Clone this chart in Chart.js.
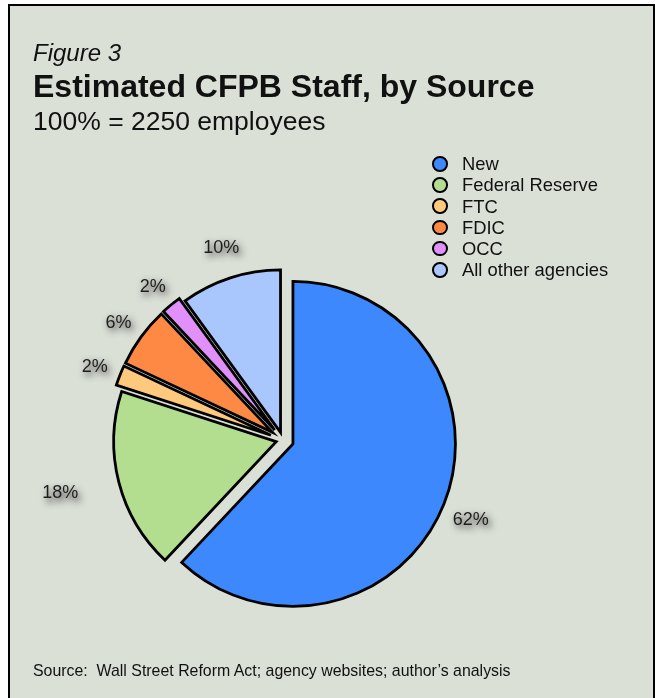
<!DOCTYPE html>
<html>
<head>
<meta charset="utf-8">
<script src="https://cdn.jsdelivr.net/npm/chart.js@4/dist/chart.umd.min.js"></script>
<style>
  html, body { margin: 0; padding: 0; background: #ffffff; }
  body { width: 655px; height: 698px; position: relative; overflow: hidden;
         font-family: "Liberation Sans", Arial, Helvetica, sans-serif; color: #111; }
  #frame { position: absolute; left: 8px; top: 4px; width: 647px; height: 720px;
           box-sizing: border-box; border: 2px solid #000; background: #dbe0d7; }
  #chart { position: absolute; left: 0; top: 0; }
  .t { position: absolute; left: 33px; white-space: nowrap; }
  #fig { top: 40.7px; font-size: 24px; line-height: 24px; font-style: italic; }
  #title { top: 69.6px; font-size: 32px; line-height: 32px; font-weight: bold; }
  #sub { top: 107.6px; font-size: 26.5px; line-height: 26.5px; }
  #src { top: 662.5px; font-size: 15.9px; line-height: 16px; }
  #legend { position: absolute; left: 432px; top: 153.2px; }
  .row { height: 21.2px; line-height: 21.2px; font-size: 18.4px; position: relative; white-space: nowrap; }
  .dot { position: absolute; left: 0; top: 2.9px; width: 15.5px; height: 15.5px; box-sizing: border-box;
         border: 2.5px solid #000; border-radius: 50%; }
  .lab { position: absolute; left: 30px; top: 0; }
</style>
</head>
<body>
<div id="frame"></div>
<canvas id="chart" width="655" height="698"></canvas>
<div class="t" id="fig">Figure 3</div>
<div class="t" id="title">Estimated CFPB Staff, by Source</div>
<div class="t" id="sub">100% = 2250 employees</div>
<div id="legend"></div>
<div class="t" id="src">Source:&nbsp; Wall Street Reform Act; agency websites; author’s analysis</div>
<script>
// ---- data ----
const categories = ["New", "Federal Reserve", "FTC", "FDIC", "OCC", "All other agencies"];
const shares = [62, 18, 2, 6, 2, 10];
const sliceColors = ["#3d88fc", "#b4de8f", "#fec97c", "#fe8944", "#e190fa", "#a9c6fd"];

// ---- style: explosion distance per slice, label placement ----
const explode = [10.7, 7, 13, 13, 13, 8];
const labelDistance = [204, 229, 202, 202, 201, 202];
const labelNudgeDeg = [1.45, 1.0, -0.3, -0.5, -0.8, 0.2];

// legend
const legendEl = document.getElementById('legend');
categories.forEach((c, i) => {
  const row = document.createElement('div');
  row.className = 'row';
  const dot = document.createElement('span');
  dot.className = 'dot';
  dot.style.background = sliceColors[i];
  const lab = document.createElement('span');
  lab.className = 'lab';
  lab.textContent = c;
  row.appendChild(dot); row.appendChild(lab);
  legendEl.appendChild(row);
});

const total = shares.reduce((a, b) => a + b, 0);

// draw each library arc element shifted outward along its mid angle
const explodedPie = {
  id: 'explodedPie',
  beforeDatasetDraw(chart, args) {
    const ctx = chart.ctx;
    args.meta.data.forEach((arc, i) => {
      const p = arc.getProps(['startAngle', 'endAngle'], true);
      const mid = (p.startAngle + p.endAngle) / 2;
      ctx.save();
      ctx.translate(Math.cos(mid) * explode[i], Math.sin(mid) * explode[i]);
      arc.draw(ctx, chart.chartArea);
      ctx.restore();
    });
    return false;
  }
};

const pctLabels = {
  id: 'pctLabels',
  afterDatasetsDraw(chart) {
    const ctx = chart.ctx;
    const meta = chart.getDatasetMeta(0);
    ctx.save();
    ctx.font = '18px "Liberation Sans", Arial, Helvetica, sans-serif';
    ctx.textAlign = 'center';
    ctx.textBaseline = 'middle';
    meta.data.forEach((arc, i) => {
      const p = arc.getProps(['x', 'y', 'startAngle', 'endAngle'], true);
      const mid = (p.startAngle + p.endAngle) / 2 + labelNudgeDeg[i] * Math.PI / 180;
      const d = labelDistance[i];
      const x = p.x + Math.cos(mid) * d;
      const y = p.y + Math.sin(mid) * d;
      const txt = Math.round(shares[i] / total * 100) + '%';
      ctx.shadowColor = 'rgba(0,0,0,0.85)';
      ctx.shadowBlur = 7;
      ctx.shadowOffsetX = 2.5;
      ctx.shadowOffsetY = 3.5;
      ctx.fillStyle = '#1e1e1e';
      ctx.fillText(txt, x, y);
    });
    ctx.restore();
  }
};

new Chart(document.getElementById('chart'), {
  type: 'pie',
  data: {
    labels: categories,
    datasets: [{
      data: shares,
      backgroundColor: sliceColors,
      borderColor: '#000',
      borderWidth: 2.8,
      hoverBorderWidth: 2.8,
      borderJoinStyle: 'miter',
      offset: 0,
      hoverOffset: 0,
      radius: 162.5,
      clip: false
    }]
  },
  options: {
    responsive: false,
    animation: false,
    events: [],
    layout: { padding: { left: 113, right: 202, top: 270, bottom: 88 } },
    plugins: {
      legend: { display: false },
      tooltip: { enabled: false },
      title: { display: false }
    }
  },
  plugins: [explodedPie, pctLabels]
});
</script>
</body>
</html>
